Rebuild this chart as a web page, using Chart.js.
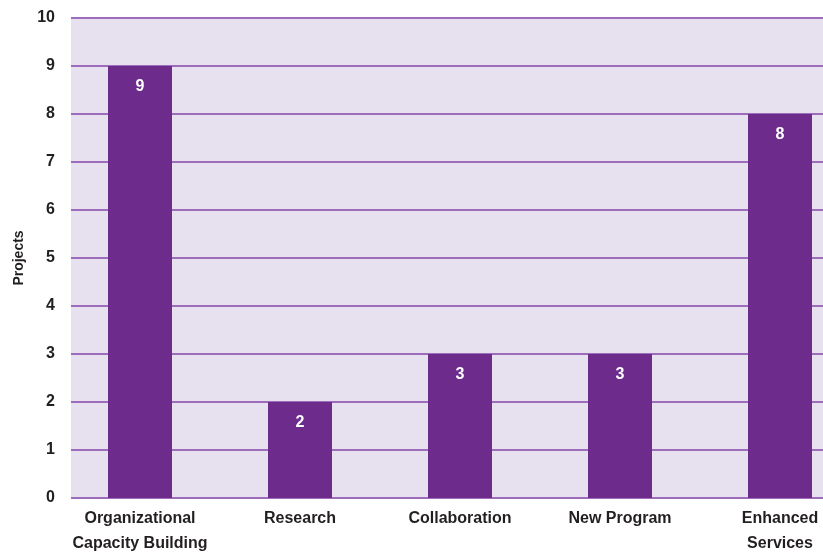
<!DOCTYPE html>
<html><head><meta charset="utf-8">
<script src="https://cdn.jsdelivr.net/npm/chart.js@4"></script>
<style>html,body{margin:0;padding:0;overflow:hidden;background:#fff;width:823px;height:554px}
#wrap{position:absolute;left:0;top:0;width:860px;height:554px}</style>
</head><body><div id="wrap"><canvas id="c" width="860" height="554"></canvas></div>
<script>
const categories = [["Organizational","Capacity Building"],"Research","Collaboration","New Program",["Enhanced","Services"]];
const projects = [9,2,3,3,8];
const yTicks = [0,1,2,3,4,5,6,7,8,9,10];

const FONT = "'Liberation Sans Narrow','Arial Narrow',sans-serif";
const BG = '#e7e1ef', GRID = '#9d6cbd', BAR = '#6d2b8c', TXT = '#231f20';

const bgPlugin = {
  id:'bg',
  beforeDatasetsDraw(chart){
    const {ctx, chartArea:a, scales:{y}} = chart;
    const left = 71;
    ctx.save();
    ctx.fillStyle = BG;
    ctx.fillRect(left, y.getPixelForValue(10), a.right-left, y.getPixelForValue(0)-y.getPixelForValue(10));
    ctx.strokeStyle = GRID; ctx.lineWidth = 2;
    yTicks.forEach(v=>{
      const py = Math.round(y.getPixelForValue(v));
      ctx.beginPath(); ctx.moveTo(left, py); ctx.lineTo(a.right, py); ctx.stroke();
    });
    ctx.restore();
  },
  afterDatasetsDraw(chart){
    const {ctx} = chart;
    const meta = chart.getDatasetMeta(0);
    ctx.save();
    ctx.fillStyle = '#fff';
    ctx.font = 'bold 16px ' + FONT;
    ctx.textAlign = 'center'; ctx.textBaseline = 'middle';
    meta.data.forEach((el,i)=>{
      ctx.fillText(String(projects[i]), el.x, el.y + 21);
    });
    ctx.restore();
  }
};

new Chart(document.getElementById('c'), {
  type:'bar',
  data:{labels:categories, datasets:[{data:projects, backgroundColor:BAR, categoryPercentage:1, barPercentage:0.4}]},
  options:{
    responsive:false, animation:false,
    layout:{padding:{top:18,right:0,left:0,bottom:0}},
    plugins:{legend:{display:false}, tooltip:{enabled:false}},
    scales:{
      x:{
        grid:{display:false, drawTicks:false}, border:{display:false},
        ticks:{color:TXT, font:{family:FONT, weight:'bold', size:16, lineHeight:1.55}, padding:8, maxRotation:0, autoSkip:false},
        afterFit(s){ s.height = 56; }
      },
      y:{
        min:0, max:10,
        grid:{display:false, drawTicks:false}, border:{display:false},
        ticks:{stepSize:1, color:TXT, font:{family:FONT, weight:'bold', size:16}, padding:5},
        title:{display:true, text:'Projects', color:TXT, font:{family:FONT, weight:'bold', size:14}, padding:{top:11,bottom:0}},
        afterFit(s){ s.width = 60; }
      }
    }
  },
  plugins:[bgPlugin]
});
</script></body></html>
